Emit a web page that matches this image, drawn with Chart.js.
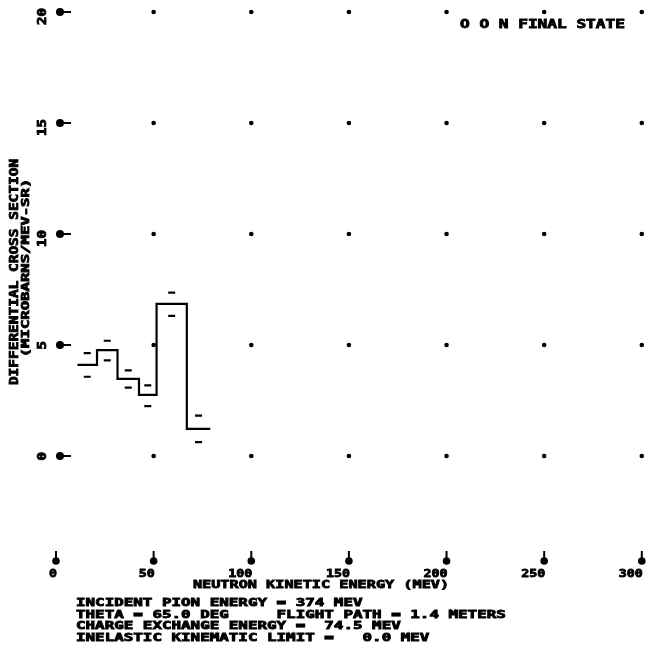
<!DOCTYPE html>
<html lang="en">
<head>
    <meta charset="UTF-8">
    <title>Differential Cross Section</title>
    <script src="https://cdn.jsdelivr.net/npm/chart.js"></script>
    <style>
        body {
            margin: 0;
            background: #fff;
        }
        canvas {
            display: block;
        }
    </style>
</head>
<body>
    <canvas id="xsChart" width="648" height="653"></canvas>

    <script>
        // Histogram bin edges (MeV) and bin contents (microbarns/MeV-sr)
        const binEdges = [11, 21, 31.5, 42.5, 51.5, 67, 79];
        const binValues = [4.1, 4.77, 3.47, 2.75, 6.85, 1.22];
        const errHigh = [4.63, 5.19, 3.86, 3.18, 7.36, 1.82];
        const errLow = [3.57, 4.31, 3.08, 2.25, 6.31, 0.62];

        // Tick labels
        const xTicks = [0, 50, 100, 150, 200, 250, 300];
        const yTicks = [0, 5, 10, 15, 20];

        const infoLines = [
            'INCIDENT PION ENERGY = 374 MEV',
            'THETA = 65.0 DEG     FLIGHT PATH = 1.4 METERS',
            'CHARGE EXCHANGE ENERGY =  74.5 MEV',
            'INELASTIC KINEMATIC LIMIT =   0.0 MEV'
        ];

        // step line points: each value starts at its left edge, last one held to the final edge
        const stepPoints = binEdges.map((e, i) => ({ x: e, y: binValues[Math.min(i, binValues.length - 1)] }));
        const centers = binValues.map((v, i) => (binEdges[i] + binEdges[i + 1]) / 2);
        const hiPoints = centers.map((c, i) => ({ x: c, y: errHigh[i] }));
        const loPoints = centers.map((c, i) => ({ x: c, y: errLow[i] }));

        // dots at every tick crossing (except the axis column)
        const gridDots = [];
        xTicks.filter(v => v > 0).forEach(x => yTicks.forEach(y => gridDots.push({ x: x, y: y })));

        const FONT = "'DejaVu Sans Mono', 'Liberation Mono', monospace";

        // blocky, wide printer-style text
        function printText(ctx, s, x, y, pitch, size, align, rot) {
            ctx.save();
            ctx.translate(x, y);
            if (rot) ctx.rotate(rot);
            ctx.scale(pitch / (0.602 * size), 1);
            ctx.font = 'bold ' + size + 'px ' + FONT;
            ctx.textAlign = align;
            ctx.textBaseline = 'middle';
            ctx.fillStyle = '#000';
            ctx.strokeStyle = '#000';
            ctx.lineWidth = 0.8;
            ctx.fillText(s, 0, 0);
            ctx.strokeText(s, 0, 0);
            ctx.restore();
        }

        const plotterPlugin = {
            id: 'plotter',
            afterDraw(chart) {
                const ctx = chart.ctx;
                const xs = chart.scales.x;
                const ys = chart.scales.y;
                const bottom = chart.chartArea.bottom;
                const x0 = xs.getPixelForValue(0);

                ctx.save();
                ctx.fillStyle = '#000';
                ctx.strokeStyle = '#000';

                // y axis markers: round head with a tail to the right
                yTicks.forEach(v => {
                    const py = ys.getPixelForValue(v);
                    ctx.beginPath();
                    ctx.arc(x0 + 4, py, 4, 0, Math.PI * 2);
                    ctx.fill();
                    ctx.lineWidth = 2;
                    ctx.beginPath();
                    ctx.moveTo(x0 + 4, py);
                    ctx.lineTo(x0 + 15, py);
                    ctx.stroke();
                    printText(ctx, String(v), 43, py - 4, 8.5, 11.5, 'right', -Math.PI / 2);
                });

                // x axis markers: tail up, round head down
                xTicks.forEach(v => {
                    const px = xs.getPixelForValue(v);
                    ctx.lineWidth = 2;
                    ctx.beginPath();
                    ctx.moveTo(px, bottom - 2);
                    ctx.lineTo(px, bottom + 8);
                    ctx.stroke();
                    ctx.beginPath();
                    ctx.arc(px, bottom + 8, 3.8, 0, Math.PI * 2);
                    ctx.fill();
                    printText(ctx, String(v), px + 1, bottom + 21, 8, 11, 'right', 0);
                });

                // axis titles
                printText(ctx, 'NEUTRON KINETIC ENERGY (MEV)', 321, bottom + 32, 9.15, 11, 'center', 0);
                printText(ctx, 'DIFFERENTIAL CROSS SECTION', 15, 272, 8.7, 11.5, 'center', -Math.PI / 2);
                printText(ctx, '(MICROBARNS/MEV-SR)', 26, 268, 9.4, 11, 'center', -Math.PI / 2);

                // top right label
                printText(ctx, 'O O N FINAL STATE', 460, 25, 9.7, 11.5, 'left', 0);

                // run information block
                infoLines.forEach((s, i) => {
                    printText(ctx, s, 76, 603 + i * 11.8, 9.55, 10.5, 'left', 0);
                });

                ctx.restore();
            }
        };

        const ctx = document.getElementById('xsChart').getContext('2d');
        const xsChart = new Chart(ctx, {
            type: 'scatter',
            data: {
                datasets: [
                    {
                        type: 'line',
                        label: 'histogram',
                        data: stepPoints,
                        stepped: true,
                        borderColor: '#000',
                        borderWidth: 2.2,
                        pointRadius: 0,
                        fill: false
                    },
                    {
                        label: 'upper error',
                        data: hiPoints,
                        pointStyle: 'line',
                        pointRadius: 3.5,
                        borderColor: '#000',
                        borderWidth: 2.2
                    },
                    {
                        label: 'lower error',
                        data: loPoints,
                        pointStyle: 'line',
                        pointRadius: 3.5,
                        borderColor: '#000',
                        borderWidth: 2.2
                    },
                    {
                        label: 'grid',
                        data: gridDots,
                        pointRadius: 2.3,
                        backgroundColor: '#000',
                        borderWidth: 0,
                        clip: false
                    }
                ]
            },
            options: {
                responsive: false,
                animation: false,
                layout: {
                    padding: { left: 56, right: 6, top: 12, bottom: 100 }
                },
                plugins: {
                    legend: { display: false },
                    tooltip: { enabled: false }
                },
                scales: {
                    x: { type: 'linear', min: 0, max: 300, display: false },
                    y: { type: 'linear', min: -4.37, max: 20, display: false }
                }
            },
            plugins: [plotterPlugin]
        });
    </script>
</body>
</html>
